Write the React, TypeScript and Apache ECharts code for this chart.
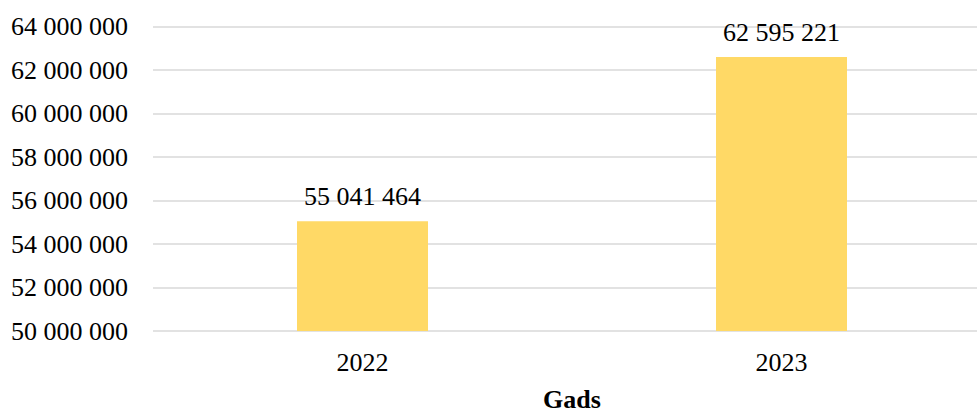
import React, { useEffect, useRef } from "react";
import * as echarts from "echarts";

const categories = ["2022", "2023"];
const values = [55041464, 62595221];
const yMin = 50000000;
const yMax = 64000000;
const yInterval = 2000000;
const xAxisName = "Gads";

const fmt = (v: number) =>
  String(Math.round(v)).replace(/\B(?=(\d{3})+(?!\d))/g, " ");

export default function App() {
  const ref = useRef<HTMLDivElement>(null);
  useEffect(() => {
    if (!ref.current) return;
    const chart = echarts.init(ref.current, undefined, { renderer: "svg" });
    const font = "Liberation Serif";
    chart.setOption({
      animation: false,
      textStyle: { fontFamily: font },
      grid: {
        left: 153,
        right: -14,
        top: 26.5,
        bottom: 81,
        containLabel: false,
        outerBoundsMode: "none",
      },
      xAxis: {
        type: "category",
        data: categories,
        name: xAxisName,
        nameLocation: "middle",
        nameGap: 55,
        nameTextStyle: { fontFamily: font, fontSize: 26, fontWeight: "bold", color: "#000" },
        axisLine: { show: false },
        axisTick: { show: false },
        axisLabel: { fontFamily: font, fontSize: 26, color: "#000", margin: 18 },
      },
      yAxis: {
        type: "value",
        min: yMin,
        max: yMax,
        interval: yInterval,
        axisLine: { show: false },
        axisTick: { show: false },
        axisLabel: { fontFamily: font, fontSize: 26, color: "#000", margin: 25, formatter: fmt },
        splitLine: { lineStyle: { color: "#d9d9d9", width: 1.5 } },
      },
      series: [
        {
          type: "bar",
          data: values,
          barWidth: 131,
          itemStyle: { color: "#FFD966" },
          label: {
            show: true,
            position: "top",
            distance: 12,
            fontFamily: font,
            fontSize: 26,
            color: "#000",
            formatter: (p: any) => fmt(p.value),
          },
        },
      ],
    });
    return () => chart.dispose();
  }, []);
  return (
    <div
      ref={ref}
      style={{ position: "absolute", left: 0, top: 0, width: 977, height: 412 }}
    />
  );
}
